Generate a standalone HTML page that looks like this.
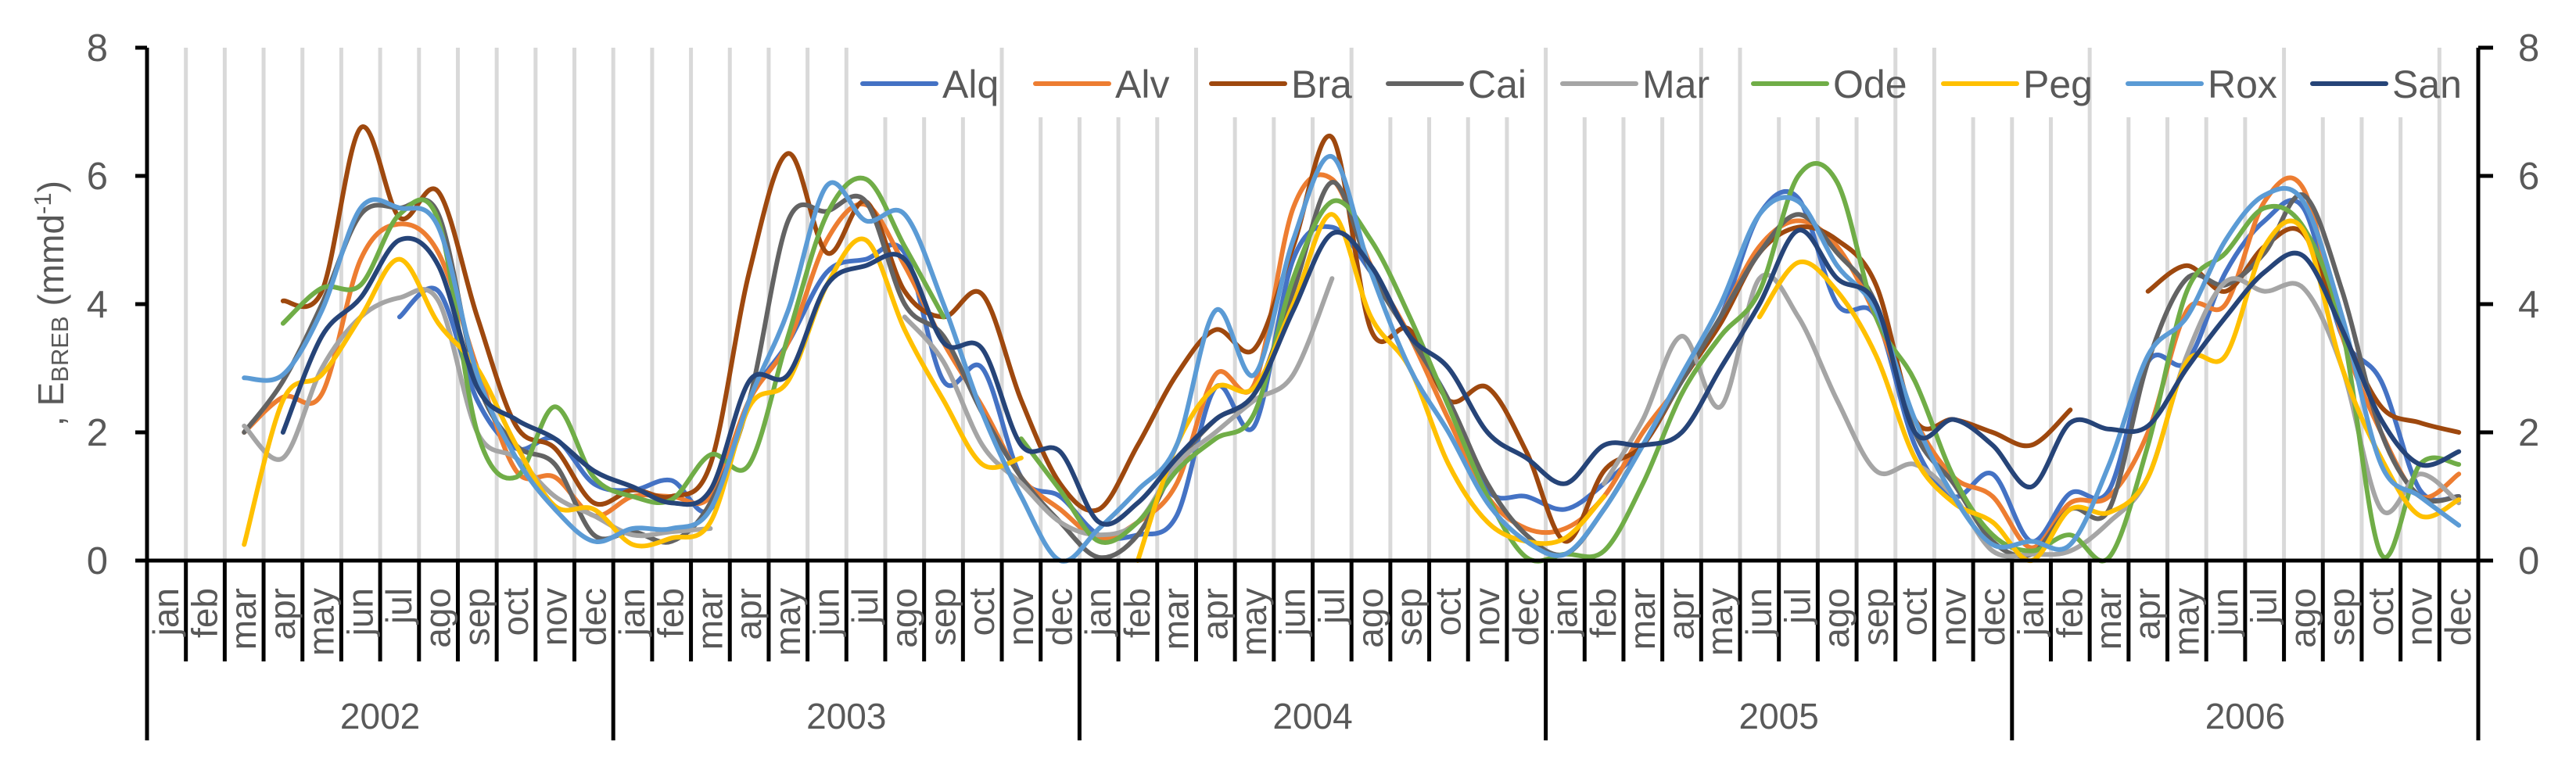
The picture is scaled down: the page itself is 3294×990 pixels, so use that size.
<!DOCTYPE html>
<html><head><meta charset="utf-8"><style>
html,body{margin:0;padding:0;background:#fff;}
svg{display:block;font-family:"Liberation Sans",sans-serif;}
</style></head><body>
<svg id="chart" width="3294" height="990" viewBox="0 0 3294 990" xmlns="http://www.w3.org/2000/svg">
<g id="grid"></g>
<g id="series"></g>
<g id="axes"></g>
<g id="legend"></g>
<text transform="translate(81,388) rotate(-90)" text-anchor="middle" font-size="46" fill="#595959">, E<tspan font-size="31" dy="6">BREB</tspan><tspan dy="-6"> (mmd</tspan><tspan font-size="31" dy="-16">-1</tspan><tspan dy="16">)</tspan></text>
</svg>
<script>
const years = ["2002","2003","2004","2005","2006"];
const months = ["jan","feb","mar","apr","may","jun","jul","ago","sep","oct","nov","dec"];
const yTicks = [0,2,4,6,8];
const seriesNames = ["Alq","Alv","Bra","Cai","Mar","Ode","Peg","Rox","San"];
const seriesColors = ["#4472C4","#ED7D31","#9E480E","#636363","#A5A5A5","#70AD47","#FFC000","#5B9BD5","#264478"];
const N = null;
const Alq = [N,N,N,N,N,N,3.8,4.2,2.5,1.75,1.9,1.2, 1.1,1.25,0.8,2.5,3.4,4.5,4.7,4.8,2.8,3.0,1.3,1.0, 0.4,0.4,0.7,2.7,2.1,4.7,5.2,4.5,3.5,2.5,1.1,1.0, 0.8,1.2,1.8,2.8,3.8,5.4,5.65,4.0,3.8,1.8,1.0,1.35, 0.3,1.05,1.1,3.1,3.1,4.5,5.3,5.5,3.5,2.8,1.1,1.0];
const Alv = [N,N,2.0,2.55,2.6,4.7,5.25,4.8,3.0,1.4,1.3,0.7, 1.0,1.0,1.0,2.5,3.4,5.0,5.55,4.6,3.4,2.4,1.3,0.8, 0.35,0.6,1.2,2.9,2.75,5.5,5.95,4.6,3.5,2.2,1.0,0.5, 0.5,1.0,2.0,2.8,3.8,4.9,5.3,4.9,3.8,2.2,1.3,1.0, 0.2,0.9,1.0,2.0,3.9,4.0,5.6,5.8,3.5,2.0,1.0,1.35];
const Bra = [N,N,N,4.05,4.2,6.75,5.35,5.75,3.8,2.1,1.75,0.9, 1.1,1.0,1.5,4.5,6.35,4.8,5.6,4.2,3.8,4.15,2.5,1.2, 0.8,1.8,2.9,3.6,3.3,4.9,6.6,3.6,3.6,2.5,2.7,1.7, 0.3,1.4,1.8,2.8,3.7,4.8,5.2,5.0,4.3,2.2,2.2,2.0, 1.8,2.35,N,4.2,4.6,4.2,4.9,5.1,3.6,2.4,2.15,2.0];
const Cai = [N,N,2.0,2.8,4.0,5.4,5.5,5.4,2.8,1.8,1.5,0.4, 0.45,0.3,0.9,2.5,5.3,5.45,5.6,4.0,3.5,2.3,1.3,0.6, 0.05,0.4,1.5,2.2,2.6,4.2,5.9,4.5,3.5,2.5,1.2,0.4, 0.1,0.8,1.8,2.8,3.8,4.8,5.4,4.8,4.0,2.0,1.2,0.3, 0.1,0.8,0.8,3.1,4.4,4.3,4.8,5.7,4.2,2.0,1.0,1.0];
const Mar = [N,N,2.1,1.6,3.0,3.8,4.1,4.05,2.0,1.6,1.0,0.7, 0.4,0.45,0.5,N,N,N,N,3.8,3.1,1.8,1.2,0.6, 0.4,0.6,1.5,2.0,2.5,2.9,4.4,N,N,N,N,N, N,1.2,2.2,3.5,2.4,4.4,3.8,2.5,1.4,1.5,1.0,0.15, 0.1,0.15,0.6,1.3,3.2,4.35,4.2,4.25,3.0,0.8,1.35,0.9];
const Ode = [N,N,N,3.7,4.25,4.3,5.4,5.3,2.0,1.3,2.4,1.3, 1.0,0.95,1.65,1.5,3.5,5.4,5.95,4.9,3.8,N,1.9,1.1, 0.3,0.6,1.4,1.9,2.3,4.4,5.6,5.0,3.8,2.4,1.0,0.05, 0.1,0.15,1.2,2.6,3.5,4.2,6.0,5.9,3.8,2.8,1.3,0.4, 0.15,0.4,0.05,1.8,4.2,4.8,5.5,5.2,3.6,0.1,1.5,1.5];
const Peg = [N,N,0.25,2.5,2.9,3.8,4.7,3.7,3.0,1.8,0.85,0.8, 0.25,0.35,0.6,2.4,2.8,4.3,5.0,3.6,2.5,1.5,1.6,N, N,0.0,1.8,2.7,2.7,4.0,5.4,3.8,3.0,1.5,0.6,0.3, 0.35,1.0,N,N,N,3.8,4.65,4.2,3.2,1.6,0.9,0.6, 0.0,0.8,0.75,1.3,3.1,3.2,4.9,5.15,3.0,1.6,0.7,0.95];
const Rox = [N,N,2.85,2.9,3.9,5.5,5.5,5.2,2.9,1.6,0.8,0.3, 0.5,0.5,0.8,2.5,3.9,5.85,5.3,5.4,4.0,2.3,1.0,0.0, 0.5,1.1,1.8,3.9,2.9,5.0,6.3,4.5,3.0,2.0,0.9,0.3, 0.1,0.8,1.8,2.9,4.0,5.4,5.6,4.6,3.9,2.2,1.0,0.25, 0.3,0.25,1.5,3.2,3.8,5.0,5.7,5.6,3.8,1.5,1.0,0.55];
const San = [N,N,N,2.0,3.5,4.1,5.0,4.6,2.7,2.2,1.9,1.4, 1.15,0.9,1.1,2.8,2.9,4.3,4.6,4.7,3.4,3.3,1.8,1.7, 0.6,0.9,1.6,2.2,2.6,3.9,5.1,4.6,3.5,3.0,2.0,1.6, 1.2,1.8,1.8,2.0,3.0,4.0,5.15,4.4,4.0,2.0,2.2,1.8, 1.15,2.15,2.05,2.1,3.0,3.8,4.5,4.75,3.6,2.2,1.5,1.7];
const seriesData = [Alq,Alv,Bra,Cai,Mar,Ode,Peg,Rox,San];

const NS="http://www.w3.org/2000/svg";
const X0=188, X1=3169, Y0=717, Y8=61;
const nCat = years.length*months.length;
const bw=(X1-X0)/nCat;
function xBound(i){return X0+i*bw;}
function xCenter(i){return X0+(i+0.5)*bw;}
function yScale(v){return Y0-(v/8)*(Y0-Y8);}
function mk(tag,attrs,parent){const e=document.createElementNS(NS,tag);for(const k in attrs)e.setAttribute(k,attrs[k]);parent.appendChild(e);return e;}
const grid=document.getElementById('grid'), axes=document.getElementById('axes'), ser=document.getElementById('series'), leg=document.getElementById('legend');

for(let i=1;i<nCat;i++){
  const l=mk('line',{x1:xBound(i),x2:xBound(i),y1:Y8,y2:Y0,stroke:'#d9d9d9','stroke-width':5},grid);
  
  
}
let a=mk('line',{x1:X0,x2:X0,y1:Y8,y2:947,stroke:'#000','stroke-width':5},axes);


a=mk('line',{x1:X1,x2:X1,y1:Y8,y2:947,stroke:'#000','stroke-width':5},axes);


a=mk('line',{x1:X0,x2:X1,y1:Y0,y2:Y0,stroke:'#000','stroke-width':5},axes);


yTicks.forEach(v=>{
  const y=yScale(v);
  mk('line',{x1:173,x2:X0,y1:y,y2:y,stroke:'#000','stroke-width':5},axes);
  mk('line',{x1:X1,x2:3188,y1:y,y2:y,stroke:'#000','stroke-width':5},axes);
  const t=mk('text',{x:138,y:y+17,'text-anchor':'end','font-size':49,fill:'#595959'},axes);
  t.textContent=v;
  
  
  const t2=mk('text',{x:3220,y:y+17,'text-anchor':'start','font-size':49,fill:'#595959'},axes);
  t2.textContent=v;
  
  
});
for(let i=1;i<nCat;i++){
  const isYear=i%12===0;
  mk('line',{x1:xBound(i),x2:xBound(i),y1:Y0,y2:isYear?947:846,stroke:'#000','stroke-width':5},axes);
}
for(let i=0;i<nCat;i++){
  const x=xCenter(i);
  const t=mk('text',{transform:`translate(${x+15},752) rotate(-90)`,'text-anchor':'end','font-size':46,fill:'#595959'},axes);
  t.textContent=months[i%12];
  
  
}
years.forEach((yr,k)=>{
  const t=mk('text',{x:xBound(k*12+6),y:932,'text-anchor':'middle','font-size':46,fill:'#595959'},axes);
  t.textContent=yr;
  
  
});
function pathFor(pts){
  if(pts.length<2)return '';
  let d=`M${pts[0][0]},${pts[0][1]}`;
  for(let i=0;i<pts.length-1;i++){
    const p0=pts[i-1]||pts[i],p1=pts[i],p2=pts[i+1],p3=pts[i+2]||p2;
    const t=1/6;
    const c1=[p1[0]+(p2[0]-p0[0])*t,p1[1]+(p2[1]-p0[1])*t];
    const c2=[p2[0]-(p3[0]-p1[0])*t,p2[1]-(p3[1]-p1[1])*t];
    d+=` C${c1[0]},${c1[1]} ${c2[0]},${c2[1]} ${p2[0]},${p2[1]}`;
  }
  return d;
}
seriesData.forEach((arr,s)=>{
  let seg=[];const segs=[];
  arr.forEach((v,i)=>{ if(v===null){if(seg.length)segs.push(seg);seg=[];} else seg.push([xCenter(i),yScale(v)]); });
  if(seg.length)segs.push(seg);
  segs.forEach(sg=>{
    const p=mk('path',{d:pathFor(sg),fill:'none',stroke:seriesColors[s],'stroke-width':6,'stroke-linejoin':'round','stroke-linecap':'round'},ser);
    
    
  });
});
const legStart=[1103,1324,1549,1775,1998,2242,2485,2721,2957];
seriesNames.forEach((n,s)=>{
  const g=mk('g',{},leg);
  
  
  const x=legStart[s];
  mk('rect',{x:x-6,y:60,width:165,height:90,fill:'#fff'},g);
  mk('line',{x1:x,x2:x+94,y1:107,y2:107,stroke:seriesColors[s],'stroke-width':6,'stroke-linecap':'round'},g);
  const t=mk('text',{x:x+102,y:125,'font-size':50,fill:'#595959'},g);
  t.textContent=n;
});
</script>
</body></html>
